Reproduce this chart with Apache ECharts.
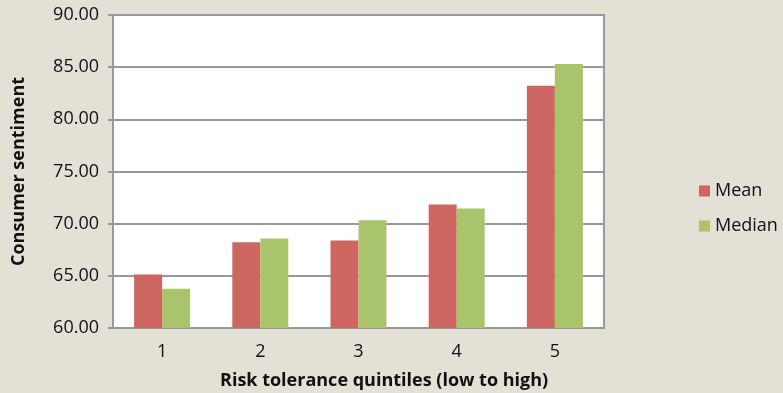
<!DOCTYPE html>
<html>
<head>
<meta charset="utf-8">
<script src="https://cdn.jsdelivr.net/npm/echarts@6/dist/echarts.min.js"></script>
<style>
  html, body { margin: 0; padding: 0; background: #e3e0d5; }
  #chart { width: 783px; height: 393px; }
</style>
</head>
<body>
<div id="chart"></div>
<script>
// Consumer sentiment by risk tolerance quintile
const quintiles = ['1', '2', '3', '4', '5'];
const meanValues = [65.13, 68.21, 68.38, 71.84, 83.21];
const medianValues = [63.76, 68.57, 70.32, 71.46, 85.31];
const yTicks = { min: 60, max: 90, step: 5 };
const xTitle = 'Risk tolerance quintiles (low to high)';
const yTitle = 'Consumer sentiment';

const font = 'Open Sans';
const ink = '#111111';
const chart = echarts.init(document.getElementById('chart'));

chart.setOption({
  backgroundColor: '#e3e0d5',
  animation: false,
  textStyle: { fontFamily: font },
  grid: {
    left: 113, top: 15, width: 491, height: 313,
    show: true, backgroundColor: '#ffffff',
    borderColor: '#999999', borderWidth: 2
  },
  legend: {
    orient: 'vertical',
    left: 694, top: 177,
    itemWidth: 11, itemHeight: 11, itemGap: 17,
    icon: 'rect',
    textStyle: { fontSize: 18, color: ink, fontFamily: font },
    data: ['Mean', 'Median']
  },
  // category axis title sits across the full chart width
  graphic: [{
    type: 'text',
    left: 220, top: 372,
    style: {
      text: xTitle,
      font: 'bold 18px "Open Sans"',
      fill: ink
    }
  }],
  xAxis: {
    type: 'category',
    data: quintiles,
    axisLine: { lineStyle: { color: '#999999', width: 2 } },
    axisTick: { show: false },
    axisLabel: { fontSize: 18, color: ink, margin: 15, fontFamily: font }
  },
  yAxis: {
    type: 'value',
    min: yTicks.min, max: yTicks.max, interval: yTicks.step,
    name: yTitle,
    nameLocation: 'middle',
    nameGap: 85,
    nameRotate: 90,
    nameTextStyle: { fontSize: 18, fontWeight: 'bold', color: ink, fontFamily: font },
    axisLine: { show: true, lineStyle: { color: '#999999', width: 2 } },
    axisTick: { show: true, length: 5, lineStyle: { color: '#999999', width: 2 } },
    splitLine: { lineStyle: { color: '#999999', width: 2 } },
    axisLabel: {
      fontSize: 18, color: ink, margin: 14, fontFamily: font,
      formatter: v => v.toFixed(2)
    }
  },
  series: [
    {
      name: 'Mean', type: 'bar', data: meanValues,
      barGap: '0%', barCategoryGap: '43%',
      itemStyle: { color: '#cd6661' }
    },
    {
      name: 'Median', type: 'bar', data: medianValues,
      itemStyle: { color: '#aac46c' }
    }
  ]
});
</script>
</body>
</html>
